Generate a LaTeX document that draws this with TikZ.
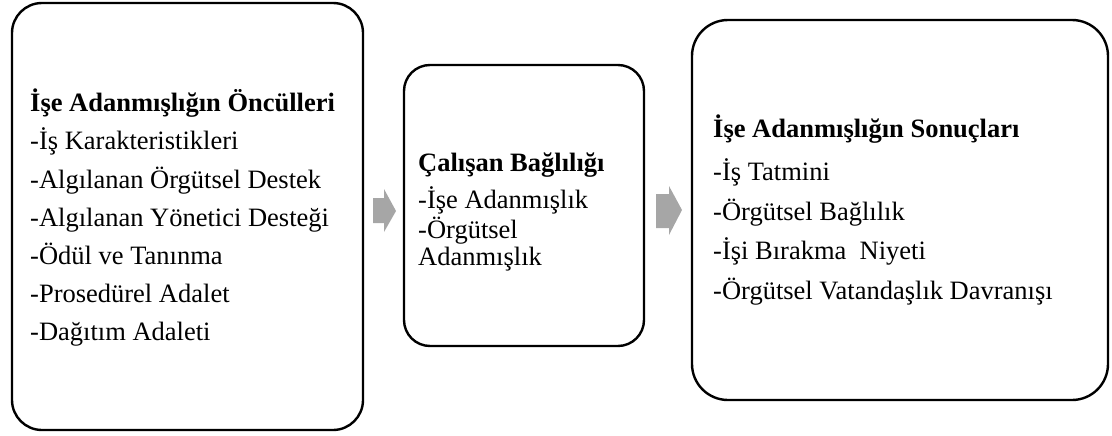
\documentclass[tikz,border=0pt]{standalone}
\usepackage{fontspec}
\setmainfont{Liberation Serif}
\begin{document}
\begin{tikzpicture}[x=1pt,y=-1pt,
  box/.style={draw=black,line width=2.4pt,rounded corners=#1},
  txt/.style={anchor=base west,inner sep=0pt,font=\fontsize{26.5}{30}\selectfont},
  ttl/.style={txt,font=\fontsize{26.5}{30}\selectfont\bfseries},
  blockarrow/.style={fill=black!35,draw=none}]
\useasboundingbox (0,0) rectangle (1112,436);
% boxes
\draw[box=30pt] (12,3) rectangle (363,430);
\draw[box=26pt] (404,65) rectangle (644,346);
\draw[box=36pt] (692,20) rectangle (1108,400);
% box 1 text
\node[ttl] (t1) at (30,111) {İşe Adanmışlığın Öncülleri};
\node[txt] (a1) at (30,149) {-İş Karakteristikleri};
\node[txt] (a2) at (30,188) {-Algılanan Örgütsel Destek};
\node[txt] (a3) at (30,226) {-Algılanan Yönetici Desteği};
\node[txt] (a4) at (30,264) {-Ödül ve Tanınma};
\node[txt] (a5) at (30,302) {-Prosedürel Adalet};
\node[txt] (a6) at (30,340) {-Dağıtım Adaleti};
% box 2 text
\node[ttl] (t2) at (418,171) {Çalışan Bağlılığı};
\node[txt] (b1) at (418,208) {-İşe Adanmışlık};
\node[txt] (b2) at (418,238) {-Örgütsel};
\node[txt] (b3) at (418,265) {Adanmışlık};
% box 3 text
\node[ttl] (t3) at (713,137) {İşe Adanmışlığın Sonuçları};
\node[txt] (c1) at (713,180) {-İş Tatmini};
\node[txt] (c2) at (713,220) {-Örgütsel Bağlılık};
\node[txt] (c3) at (713,259) {-İşi Bırakma~~Niyeti};
\node[txt] (c4) at (713,299) {-Örgütsel Vatandaşlık Davranışı};
% arrows
\fill[blockarrow] (373,198) -- (384,198) -- (384,189) -- (396,211) -- (384,232) -- (384,223) -- (373,223) -- cycle;
\fill[blockarrow] (656,194) -- (669,194) -- (669,186) -- (682,210) -- (669,235) -- (669,228) -- (656,228) -- cycle;
\end{tikzpicture}
\end{document}
